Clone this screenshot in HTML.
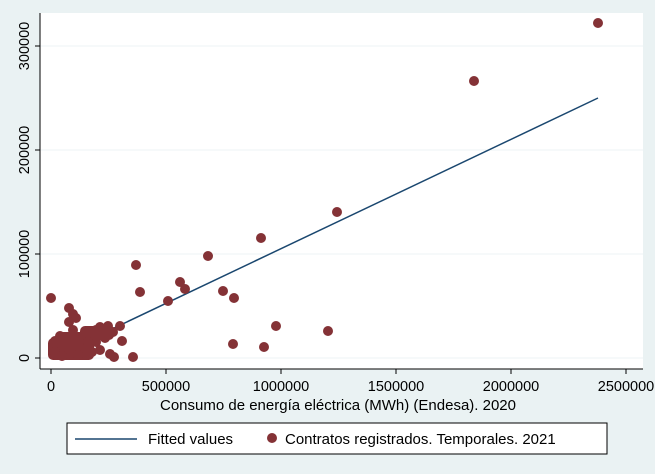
<!DOCTYPE html>
<html><head><meta charset="utf-8"><style>
body{margin:0;background:#eaf2f3;}
svg{display:block;font-family:"Liberation Sans",sans-serif;}
</style></head><body>
<svg width="655" height="474" viewBox="0 0 655 474">
<rect width="655" height="474" fill="#eaf2f3"/>
<rect x="40" y="13" width="603" height="356" fill="#fff"/>
<g stroke="#eef3f4" stroke-width="1">
<line x1="40" y1="358" x2="643" y2="358"/><line x1="40" y1="254" x2="643" y2="254"/>
<line x1="40" y1="150" x2="643" y2="150"/><line x1="40" y1="46" x2="643" y2="46"/>
</g>
<line x1="40" y1="13" x2="40" y2="369" stroke="#000" stroke-width="1"/>
<line x1="40" y1="369" x2="643" y2="369" stroke="#000" stroke-width="1"/>
<g stroke="#000"><line x1="35" y1="358" x2="40" y2="358"/><line x1="35" y1="254" x2="40" y2="254"/><line x1="35" y1="150" x2="40" y2="150"/><line x1="35" y1="46" x2="40" y2="46"/>
<line x1="51" y1="369" x2="51" y2="374"/><line x1="166" y1="369" x2="166" y2="374"/><line x1="281" y1="369" x2="281" y2="374"/><line x1="396" y1="369" x2="396" y2="374"/><line x1="511" y1="369" x2="511" y2="374"/><line x1="626" y1="369" x2="626" y2="374"/></g>
<g font-size="14.5" fill="#000" text-anchor="middle">
<text transform="translate(29,358) rotate(-90)">0</text>
<text transform="translate(29,254) rotate(-90)">100000</text>
<text transform="translate(29,150) rotate(-90)">200000</text>
<text transform="translate(29,46) rotate(-90)">300000</text>
<text x="51" y="391">0</text><text x="166" y="391">500000</text><text x="281" y="391">1000000</text><text x="396" y="391">1500000</text><text x="511" y="391">2000000</text><text x="626" y="391">2500000</text>
<text x="338" y="410" font-size="15">Consumo de energía eléctrica (MWh) (Endesa). 2020</text>
</g>
<line x1="51" y1="358" x2="598" y2="98" stroke="#1a476f" stroke-width="1.5"/>
<g fill="#843236">
<circle cx="598" cy="23" r="5"/><circle cx="474" cy="81" r="5"/><circle cx="337" cy="212" r="5"/><circle cx="261" cy="238" r="5"/><circle cx="208" cy="256" r="5"/><circle cx="136" cy="265" r="5"/><circle cx="140" cy="292" r="5"/><circle cx="180" cy="282" r="5"/><circle cx="185" cy="289" r="5"/><circle cx="168" cy="301" r="5"/><circle cx="223" cy="291" r="5"/><circle cx="234" cy="298" r="5"/><circle cx="276" cy="326" r="5"/><circle cx="328" cy="331" r="5"/><circle cx="233" cy="344" r="5"/><circle cx="264" cy="347" r="5"/><circle cx="133" cy="357" r="5"/><circle cx="122" cy="341" r="5"/><circle cx="120" cy="326" r="5"/>
<circle cx="51" cy="298" r="5"/><circle cx="69" cy="308" r="5"/><circle cx="73" cy="314" r="5"/><circle cx="76" cy="318" r="5"/><circle cx="69" cy="322" r="5"/><circle cx="73" cy="330" r="5"/><circle cx="60" cy="336" r="5"/><circle cx="55" cy="341" r="5"/><circle cx="66" cy="345" r="5"/><circle cx="76" cy="338" r="5"/><circle cx="86" cy="334" r="5"/><circle cx="96" cy="330" r="5"/><circle cx="100" cy="327" r="5"/><circle cx="108" cy="326" r="5"/><circle cx="113" cy="332" r="5"/><circle cx="105" cy="338" r="5"/><circle cx="96" cy="342" r="5"/><circle cx="110" cy="354" r="5"/><circle cx="114" cy="357" r="5"/><circle cx="85" cy="348" r="5"/><circle cx="92" cy="352" r="5"/><circle cx="100" cy="350" r="5"/>
<rect x="48" y="338" width="46" height="22" rx="5"/><rect x="58" y="332" width="30" height="12" rx="5"/><rect x="80" y="326" width="34" height="14" rx="5"/>
<circle cx="55" cy="352" r="5"/><circle cx="62" cy="356" r="5"/><circle cx="78" cy="355" r="5"/><circle cx="88" cy="342" r="5"/>
</g>
<rect x="67" y="423" width="540" height="31" fill="#fff" stroke="#000" stroke-width="1"/>
<line x1="75" y1="439" x2="137" y2="439" stroke="#1a476f" stroke-width="1.5"/>
<text x="148" y="444" font-size="15">Fitted values</text>
<circle cx="272" cy="438" r="5" fill="#843236"/>
<text x="285" y="444" font-size="15">Contratos registrados. Temporales. 2021</text>
</svg>
</body></html>
